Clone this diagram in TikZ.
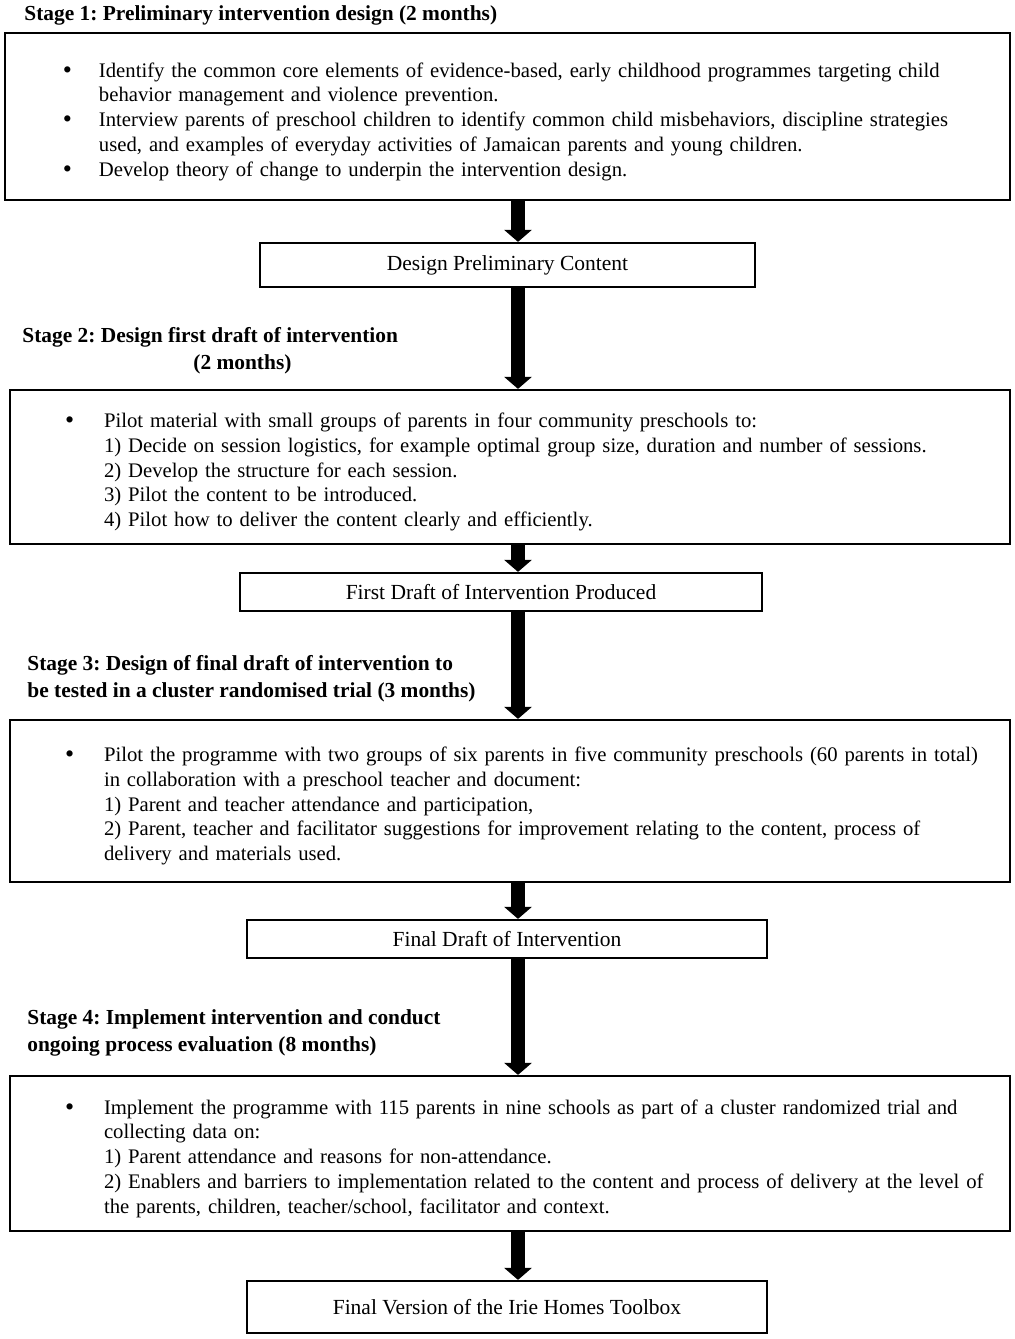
\documentclass[tikz,border=0pt]{standalone}
\usepackage{fontspec}
\setmainfont{Liberation Serif}
\usepackage{tikz}
\usetikzlibrary{arrows.meta}
\frenchspacing

\newcommand{\bitem}[2][19.5pt]{\par\hangindent=\dimexpr22.5pt+#1\relax\hangafter=1
  \noindent\hspace*{22.5pt}\makebox[#1][l]{\raisebox{-0.5pt}{\fontsize{13}{13}\selectfont\textbullet}}#2\par}

\begin{document}
\begin{tikzpicture}[
  x=0.5pt, y=-0.5pt,
  stagebox/.style={draw, line width=1.1pt, anchor=center, align=left,
               font=\fontsize{10.35}{12.4}\selectfont, inner xsep=5pt,
               minimum width=500pt, text width=490pt},
  resultbox/.style={draw, line width=1.1pt, minimum height=19pt,
               minimum width=260pt, align=center, font=\fontsize{10.75}{12}\selectfont},
  stagehead/.style={anchor=west, align=left, inner sep=0pt,
               font=\fontsize{10.7}{13.5}\selectfont\bfseries},
  arr/.style={-{Triangle[width=13.5pt,length=6pt]}, line width=7pt}
]
  \useasboundingbox (0,0) rectangle (1015,1339);
  \coordinate (axis) at (518,0);

  % stage 1
  \node[stagehead] (head1) at (24,15) {Stage 1: Preliminary intervention design (2 months)};
  \node[stagebox, minimum width=502.5pt, minimum height=83.5pt, inner xsep=6.5pt,
        text width=489.5pt] (box1) at (507.5,116.5) {%
    \bitem[18pt]{Identify the common core elements of evidence-based, early childhood programmes targeting child\newline
      behavior management and violence prevention.}
    \bitem[18pt]{Interview parents of preschool children to identify common child misbehaviors, discipline strategies\newline
      used, and examples of everyday activities of Jamaican parents and young children.}
    \bitem[18pt]{Develop theory of change to underpin the intervention design.}};
  \node[resultbox, minimum width=247.5pt, minimum height=22pt] (res1) at (507.5,265) {Design Preliminary Content};

  % stage 2
  \node[stagehead] (head2) at (22,350.5) {Stage 2: Design first draft of intervention\\
    \hspace*{85.5pt}(2 months)};
  \node[stagebox, minimum height=77pt] (box2) at (510,467) {%
    \bitem{Pilot material with small groups of parents in four community preschools to:\newline
      1) Decide on session logistics, for example optimal group size, duration and number of sessions.\newline
      2) Develop the structure for each session.\newline
      3) Pilot the content to be introduced.\newline
      4) Pilot how to deliver the content clearly and efficiently.}};
  \node[resultbox, minimum width=261pt] (res2) at (501,592) {First Draft of Intervention Produced};

  % stage 3
  \node[stagehead] (head3) at (27,678.5) {Stage 3: Design of final draft of intervention to\\
    be tested in a cluster randomised trial (3 months)};
  \node[stagebox, minimum height=81pt] (box3) at (510,801) {%
    \bitem{Pilot the programme with two groups of six parents in five community preschools (60 parents in total)\newline
      in collaboration with a preschool teacher and document:\newline
      1) Parent and teacher attendance and participation,\newline
      2) Parent, teacher and facilitator suggestions for improvement relating to the content, process of\newline
      delivery and materials used.}};
  \node[resultbox] (res3) at (507,939) {Final Draft of Intervention};

  % stage 4
  \node[stagehead] (head4) at (27,1032.5) {Stage 4: Implement intervention and conduct\\
    ongoing process evaluation (8 months)};
  \node[stagebox, minimum height=77.5pt] (box4) at (510,1153.5) {%
    \bitem{Implement the programme with 115 parents in nine schools as part of a cluster randomized trial and\newline
      collecting data on:\newline
      1) Parent attendance and reasons for non-attendance.\newline
      2) Enablers and barriers to implementation related to the content and process of delivery at the level of\newline
      the parents, children, teacher/school, facilitator and context.}};
  \node[resultbox, minimum height=26pt] (res4) at (507,1307) {Final Version of the Irie Homes Toolbox};

  \draw[arr] (box1.south -| axis) -- (res1.north -| axis);
  \draw[arr] (res1.south -| axis) -- (box2.north -| axis);
  \draw[arr] (box2.south -| axis) -- (res2.north -| axis);
  \draw[arr] (res2.south -| axis) -- (box3.north -| axis);
  \draw[arr] (box3.south -| axis) -- (res3.north -| axis);
  \draw[arr] (res3.south -| axis) -- (box4.north -| axis);
  \draw[arr] (box4.south -| axis) -- (res4.north -| axis);
\end{tikzpicture}
\end{document}
